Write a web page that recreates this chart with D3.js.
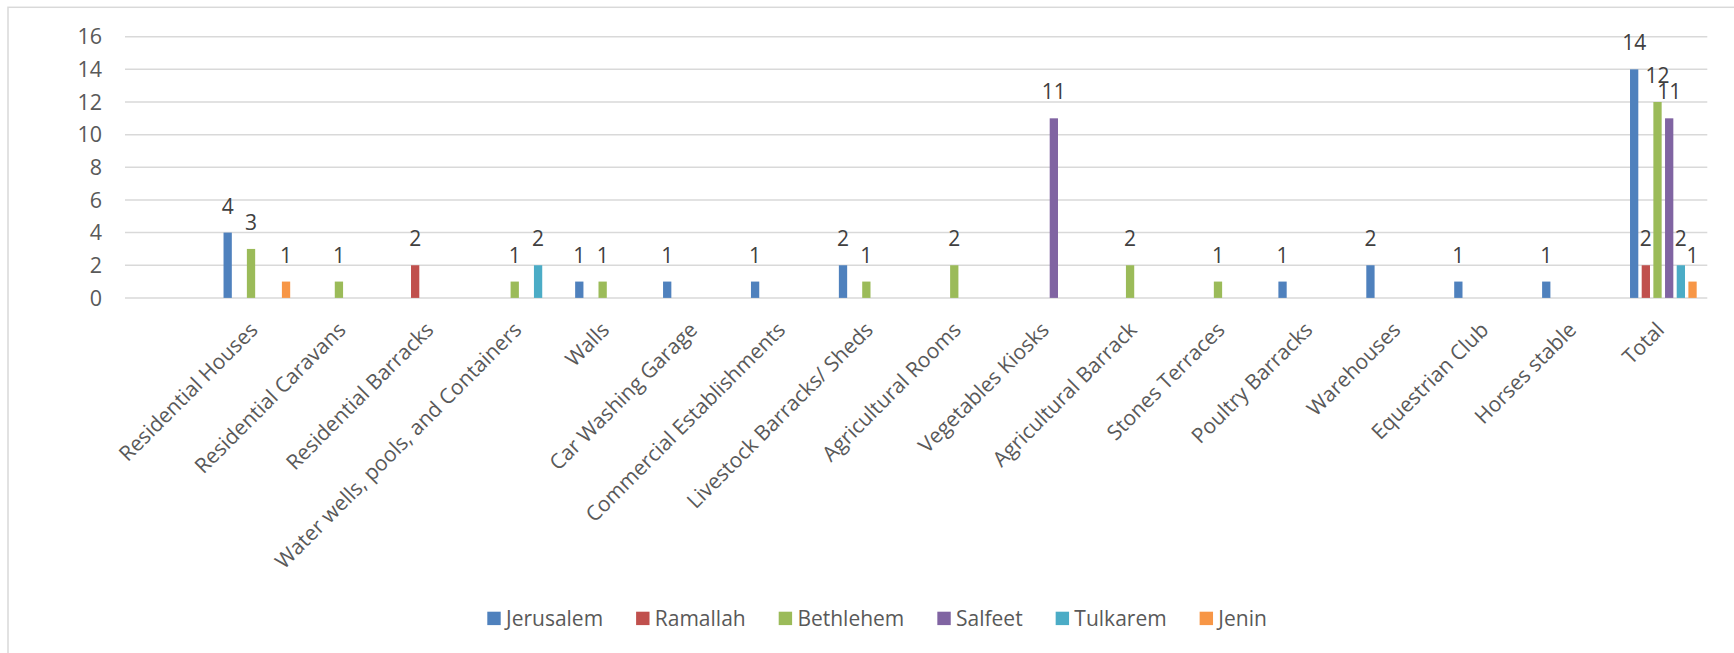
<!DOCTYPE html>
<html>
<head>
<meta charset="utf-8">
<script src="https://cdn.jsdelivr.net/npm/d3@7"></script>
<style>
  body { margin: 0; background: #fff; }
  text { font-family: "Open Sans", "Noto Sans", sans-serif; }
</style>
</head>
<body>
<div id="chartContainer"></div>
<script>

// first category is the blank row of the source table
var categories = ["", "Residential Houses", "Residential Caravans", "Residential Barracks",
  "Water wells, pools, and Containers", "Walls", "Car Washing Garage", "Commercial Establishments",
  "Livestock Barracks/ Sheds", "Agricultural Rooms", "Vegetables Kiosks", "Agricultural Barrack",
  "Stones Terraces", "Poultry Barracks", "Warehouses", "Equestrian Club", "Horses stable", "Total"];

var seriesNames = ["Jerusalem", "Ramallah", "Bethlehem", "Salfeet", "Tulkarem", "Jenin"];
var seriesColors = ["#4F81BD", "#C0504D", "#9BBB59", "#8064A2", "#4BACC6", "#F79646"];

var jerusalem = [null, 4, null, null, null, 1, 1, 1, 2, null, null, null, null, 1, 2, 1, 1, 14];
var ramallah  = [null, null, null, 2, null, null, null, null, null, null, null, null, null, null, null, null, null, 2];
var bethlehem = [null, 3, 1, null, 1, 1, null, null, 1, 2, null, 2, 1, null, null, null, null, 12];
var salfeet   = [null, null, null, null, null, null, null, null, null, null, 11, null, null, null, null, null, null, 11];
var tulkarem  = [null, null, null, null, 2, null, null, null, null, null, null, null, null, null, null, null, null, 2];
var jenin     = [null, 1, null, null, null, null, null, null, null, null, null, null, null, null, null, null, null, 1];

var yTicks = [0, 2, 4, 6, 8, 10, 12, 14, 16];

var seriesValues = [jerusalem, ramallah, bethlehem, salfeet, tulkarem, jenin];

var config = {
  w: 1734,
  h: 653,
  left: 125,
  right: 1707.3,
  top: 36.7,
  bot: 297.9
};

var svg = d3.select("#chartContainer").append("svg")
  .attr("width", config.w)
  .attr("height", config.h);

// chart area border (runs off the right and bottom of the picture)
svg.append("rect")
  .attr("x", 8)
  .attr("y", 7.3)
  .attr("width", config.w + 20)
  .attr("height", config.h + 20)
  .style("fill", "none")
  .style("stroke", "#d9d9d9")
  .style("stroke-width", "1.5px");

var x0 = d3.scaleBand()
  .domain(d3.range(categories.length))
  .range([config.left, config.right]);

var x1 = d3.scaleBand()
  .domain(d3.range(seriesNames.length))
  .range([0, x0.bandwidth()])
  .paddingInner(0.29)
  .paddingOuter(0.91);

var y = d3.scaleLinear()
  .domain([0, 16])
  .range([config.bot, config.top]);

// gridlines
svg.append("g").selectAll("line")
  .data(yTicks)
  .enter().append("line")
  .attr("x1", config.left)
  .attr("x2", config.right)
  .attr("y1", function(d) { return y(d); })
  .attr("y2", function(d) { return y(d); })
  .style("stroke", "#d9d9d9")
  .style("stroke-width", "1.5px");

// y axis labels
svg.append("g").selectAll("text")
  .data(yTicks)
  .enter().append("text")
  .attr("x", 102)
  .attr("y", function(d) { return y(d); })
  .attr("dy", "0.36em")
  .attr("text-anchor", "end")
  .style("font-size", "21.5px")
  .style("fill", "#595959")
  .text(function(d) { return d; });

// flatten to one record per bar
var bars = [];
seriesValues.forEach(function(vals, s) {
  vals.forEach(function(v, c) {
    if (v != null) bars.push({ s: s, c: c, v: v });
  });
});

var barG = svg.append("g");

barG.selectAll("rect")
  .data(bars)
  .enter().append("rect")
  .attr("x", function(d) { return x0(d.c) + x1(d.s); })
  .attr("y", function(d) { return y(d.v); })
  .attr("width", x1.bandwidth())
  .attr("height", function(d) { return y(0) - y(d.v); })
  .style("fill", function(d) { return seriesColors[d.s]; });

barG.selectAll("text")
  .data(bars)
  .enter().append("text")
  .attr("x", function(d) { return x0(d.c) + x1(d.s) + x1.bandwidth() / 2; })
  .attr("y", function(d) { return y(d.v) - 19; })
  .attr("text-anchor", "middle")
  .style("font-size", "21px")
  .style("fill", "#404040")
  .text(function(d) { return d.v; });

// category labels, rotated -45
svg.append("g").selectAll("text")
  .data(categories)
  .enter().append("text")
  .attr("transform", function(d, i) {
    return "translate(" + (x0(i) + x0.bandwidth() / 2 - 3) + ",326) rotate(-45)";
  })
  .attr("dy", "0.35em")
  .attr("text-anchor", "end")
  .style("font-size", "21px")
  .style("fill", "#595959")
  .text(function(d) { return d; });

// legend
var legend = svg.append("g")
  .attr("transform", "translate(487.3,611.7)");

var lx = 0;
seriesNames.forEach(function(name, i) {
  var item = legend.append("g")
    .attr("transform", "translate(" + lx + ",0)");
  item.append("rect")
    .attr("width", 13.4)
    .attr("height", 13.4)
    .style("fill", seriesColors[i]);
  var t = item.append("text")
    .attr("x", 18.7)
    .attr("y", 6.7)
    .attr("dy", "0.36em")
    .style("font-size", "21px")
    .style("fill", "#595959")
    .text(name);
  lx += 18.7 + t.node().getComputedTextLength() + 33;
});

</script>
</body>
</html>
